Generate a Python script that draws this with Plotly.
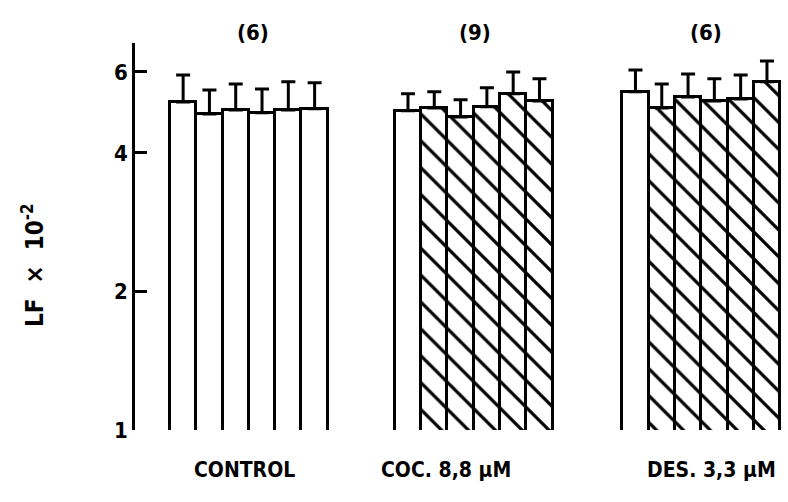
import plotly.graph_objects as go

groups = ["CONTROL", "COC. 8,8 μM", "DES. 3,3 μM"]
group_n = ["(6)", "(9)", "(6)"]
means = [
    [5.16, 4.86, 4.96, 4.89, 4.96, 4.99],
    [4.94, 5.01, 4.79, 5.04, 5.38, 5.19],
    [5.43, 5.01, 5.29, 5.19, 5.24, 5.71],
]
upper = [
    [5.91, 5.48, 5.65, 5.51, 5.71, 5.68],
    [5.38, 5.43, 5.22, 5.54, 6.00, 5.80],
    [6.06, 5.65, 5.94, 5.80, 5.91, 6.34],
]
hatched = [
    [False] * 6,
    [False] + [True] * 5,
    [False] + [True] * 5,
]
y_ticks = [1, 2, 4, 6]

group_start = [0.0, 8.55, 17.2]

xs, ys, errs, shapes = [], [], [], []
for g in range(3):
    for i in range(6):
        xs.append(group_start[g] + i + 0.5)
        ys.append(means[g][i])
        errs.append(upper[g][i] - means[g][i])
        shapes.append("\\" if hatched[g][i] else "")

FONT = "DejaVu Sans Condensed"

fig = go.Figure()
fig.add_trace(go.Bar(
    x=xs, y=ys, width=1.0,
    marker=dict(color="white", line=dict(color="black", width=3),
                pattern=dict(shape=shapes, fgcolor="black", bgcolor="white",
                             fgopacity=1, size=19, solidity=0.17)),
    error_y=dict(type="data", symmetric=False, array=errs,
                 arrayminus=[0] * len(errs), color="black", thickness=3, width=7),
    showlegend=False,
))

anns = []
label_x = [2.85, 10.5, 20.6]
n_x = [3.15, 11.6, 20.4]
for g in range(3):
    anns.append(dict(x=n_x[g], y=1.026, xref="x", yref="paper", yanchor="middle",
                     text=group_n[g], showarrow=False,
                     font=dict(family=FONT, size=22, color="black", weight="bold")))
    anns.append(dict(x=label_x[g], y=-0.103, xref="x", yref="paper", yanchor="middle",
                     text=groups[g], showarrow=False,
                     font=dict(family=FONT, size=21, color="black", weight="bold")))
anns.append(dict(x=-0.157, y=0.425, xref="paper", yref="paper", xanchor="center",
                 yanchor="middle", text="LF  ×  10<sup>-2</sup>",
                 textangle=-90, showarrow=False,
                 font=dict(family=FONT, size=24, color="black", weight="bold")))

fig.update_layout(
    width=788, height=502,
    margin=dict(l=135, r=0, t=43, b=72),
    paper_bgcolor="white", plot_bgcolor="white",
    xaxis=dict(range=[-1.33, 23.5], showline=False, showgrid=False, zeroline=False,
               showticklabels=False, ticks=""),
    yaxis=dict(type="log", range=[0, 0.841], tickvals=y_ticks,
               ticktext=[str(v) for v in y_ticks], ticks="inside", ticklen=12,
               tickwidth=2.5, tickcolor="black", showline=True, linewidth=2.5,
               linecolor="black", showgrid=False, zeroline=False,
               tickfont=dict(family=FONT, size=22, color="black", weight="bold")),
    annotations=anns,
    bargap=0,
)

fig.write_html("out.html")
